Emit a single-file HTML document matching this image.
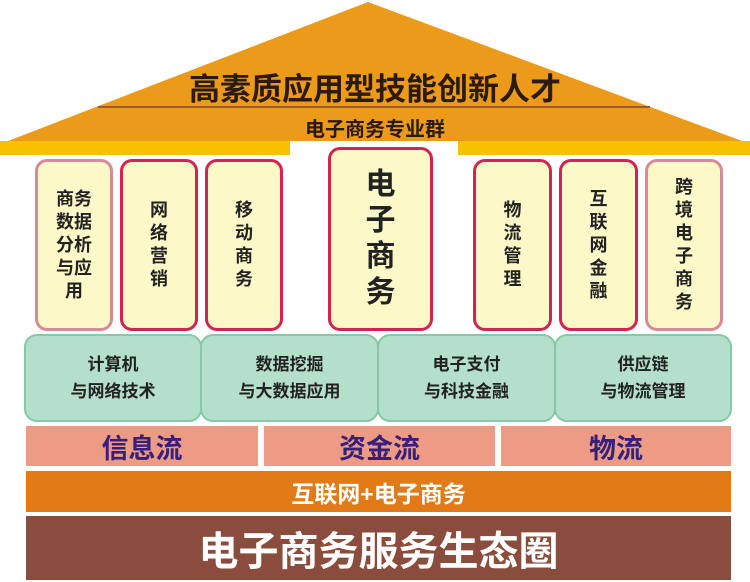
<!DOCTYPE html>
<html><head><meta charset="utf-8"><style>
body{margin:0;width:750px;height:582px;background:#fff;position:relative;overflow:hidden;font-family:"Liberation Sans","Noto Sans CJK SC",sans-serif;font-weight:bold}
.a{position:absolute;box-sizing:border-box}
.col{background:#fdf8c8;border:3px solid #d42350;border-radius:12px;display:flex;align-items:center;justify-content:center;text-align:center;font-size:18px;line-height:23px;color:#222}
.col.p{border-color:#d98a98}
.g{background:#b4e0cb;border:2px solid #86c9a6;border-radius:13px;display:flex;align-items:center;justify-content:center;text-align:center;font-size:17px;line-height:27px;color:#222}
.pk{background:#ee9b86;display:flex;align-items:center;justify-content:center;font-size:27px;color:#36207a}
</style></head><body>
<svg class="a" style="left:0;top:0" width="750" height="160">
<polygon points="368,2 8,141 742,141" fill="#eb9a1a"/>
<rect x="0" y="141" width="290" height="14" fill="#f7c000"/>
<rect x="458" y="141" width="292" height="14" fill="#f7c000"/>
<line x1="98" y1="107" x2="650" y2="107" stroke="#9a5a2a" stroke-width="2"/>
</svg>
<div class="a" style="left:0;top:64;width:750px;top:64px;text-align:center;font-size:31px;color:#2a1a10">高素质应用型技能创新人才</div>
<div class="a" style="left:0;top:113px;width:750px;text-align:center;font-size:20px;color:#2a1a10">电子商务专业群</div>
<div class="a col p" style="left:35px;top:159px;width:78px;height:172px">商务<br>数据<br>分析<br>与应<br>用</div>
<div class="a col" style="left:120px;top:159px;width:78px;height:172px">网<br>络<br>营<br>销</div>
<div class="a col" style="left:205px;top:159px;width:78px;height:172px">移<br>动<br>商<br>务</div>
<div class="a col" style="left:328px;top:147px;width:105px;height:184px;font-size:30px;line-height:36px">电<br>子<br>商<br>务</div>
<div class="a col" style="left:473px;top:159px;width:79px;height:172px">物<br>流<br>管<br>理</div>
<div class="a col" style="left:559px;top:159px;width:79px;height:172px">互<br>联<br>网<br>金<br>融</div>
<div class="a col p" style="left:645px;top:159px;width:78px;height:172px">跨<br>境<br>电<br>子<br>商<br>务</div>
<div class="a g" style="left:24px;top:334px;width:178px;height:88px">计算机<br>与网络技术</div>
<div class="a g" style="left:200px;top:334px;width:179px;height:88px">数据挖掘<br>与大数据应用</div>
<div class="a g" style="left:377px;top:334px;width:179px;height:88px">电子支付<br>与科技金融</div>
<div class="a g" style="left:554px;top:334px;width:178px;height:88px">供应链<br>与物流管理</div>
<div class="a pk" style="left:26px;top:426px;width:232px;height:40px">信息流</div>
<div class="a pk" style="left:264px;top:426px;width:231px;height:40px">资金流</div>
<div class="a pk" style="left:501px;top:426px;width:230px;height:40px">物流</div>
<div class="a" style="left:26px;top:471px;width:705px;height:41px;background:#e27a18;color:#fff;font-size:23px;display:flex;align-items:center;justify-content:center">互联网+电子商务</div>
<div class="a" style="left:26px;top:516px;width:705px;height:64px;background:#8a4c3d;color:#fff;font-size:40px;display:flex;align-items:center;justify-content:center">电子商务服务生态圈</div>
</body></html>
